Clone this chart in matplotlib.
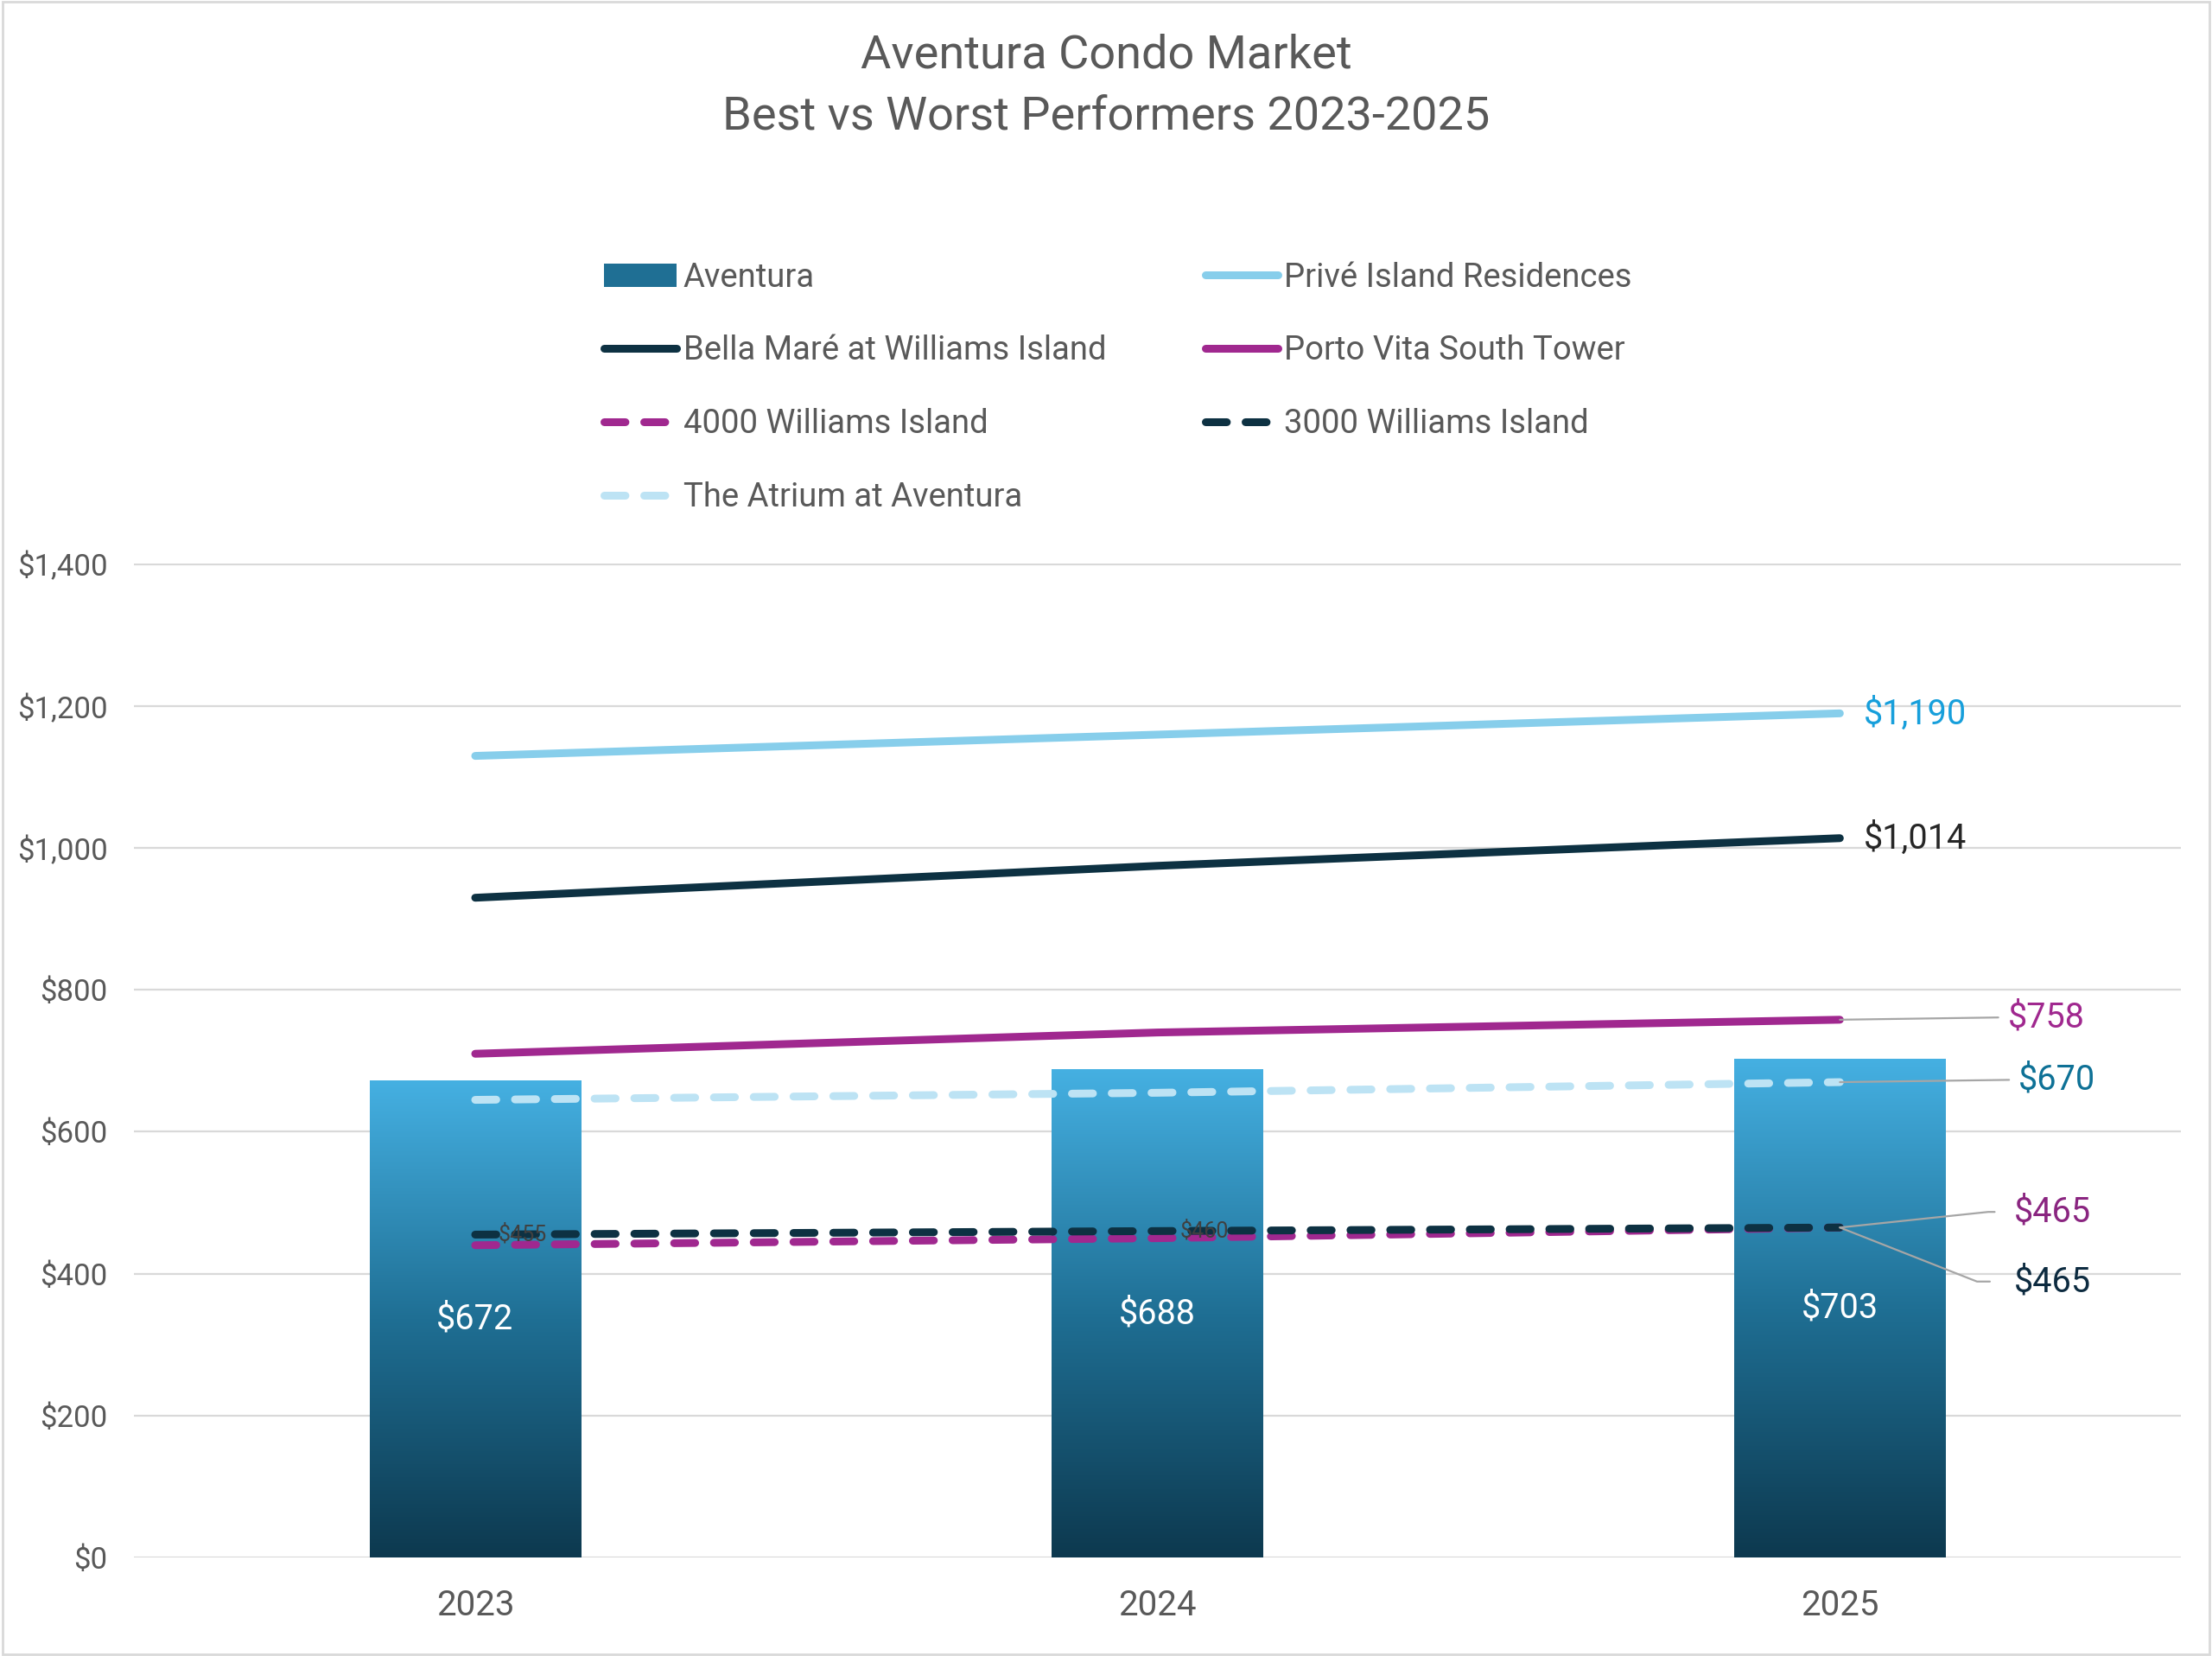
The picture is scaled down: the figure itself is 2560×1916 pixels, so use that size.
import numpy as np
import matplotlib.pyplot as plt
from matplotlib.lines import Line2D
from matplotlib.patches import Patch, Rectangle
from matplotlib.colors import LinearSegmentedColormap

plt.rcParams['font.family'] = ['Roboto', 'DejaVu Sans']

# data ($ per sq ft)
years = ['2023', '2024', '2025']
aventura = [672, 688, 703]
prive = [1130, 1160, 1190]
bella_mare = [930, 975, 1014]
porto_vita = [710, 740, 758]
williams_4000 = [440, 450, 465]
williams_3000 = [455, 460, 465]
atrium = [645, 655, 670]

TEXT = '#595959'
GRID = '#D9D9D9'
DASH = (2.7, 2.4)

fig = plt.figure(figsize=(25.6, 19.16), dpi=100)
ax = fig.add_axes([0.0606, 0.0596, 0.9254, 0.6])

x = np.arange(len(years))

# gradient bars for Aventura
bars = ax.bar(x, aventura, width=0.31, color='none', zorder=2)
cmap = LinearSegmentedColormap.from_list('av', ['#0D394F', '#1F6F94', '#45B0E2'])
grad = np.linspace(1, 0, 256).reshape(-1, 1)
for b in bars:
    x0 = b.get_x()
    ax.imshow(grad, cmap=cmap, vmin=0, vmax=1, aspect='auto', zorder=2,
              extent=(x0, x0 + b.get_width(), 0, b.get_height()))
ax.bar_label(bars, labels=[f'${v}' for v in aventura], label_type='center',
             color='white', fontsize=28.5, zorder=6)

# building lines
series = [
    ('Privé Island Residences', prive, '#87CEEB', None),
    ('Bella Maré at Williams Island', bella_mare, '#0D3142', None),
    ('Porto Vita South Tower', porto_vita, '#A0288F', None),
    ('4000 Williams Island', williams_4000, '#A0288F', DASH),
    ('3000 Williams Island', williams_3000, '#0D3142', DASH),
    ('The Atrium at Aventura', atrium, '#BDE3F4', DASH),
]
handles = {}
for name, vals, col, dash in series:
    kw = dict(color=col, lw=6.5, solid_capstyle='round', dash_capstyle='round')
    if dash:
        kw['dashes'] = dash
    ax.plot(x, vals, zorder=4, **kw)
    handles[name] = Line2D([], [], **kw)

handles['Aventura'] = Patch(facecolor='#1F6F94', edgecolor='none')

# end labels at 2025
def end_label(vals, text, col, dx, dy, conn='arc3', shrink=6):
    ax.annotate(text, xy=(2, vals[-1]), xytext=(dx, dy), textcoords='offset points',
                ha='left', va='center', fontsize=28.5, color=col, zorder=7,
                arrowprops=None if conn is None else dict(
                    arrowstyle='-', color='#A6A6A6', lw=1.6, shrinkA=shrink, shrinkB=0,
                    relpos=(0, 0.5), connectionstyle=conn))

end_label(prive, '$1,190', '#179FDB', 20, 0, conn=None)
end_label(bella_mare, '$1,014', '#262626', 20, 0, conn=None)
end_label(porto_vita, '$758', '#A0288F', 140, 2)
end_label(atrium, '$670', '#0E7196', 149, 2)
end_label(williams_4000, '$465', '#8A2580', 145, 13,
          conn='angle,angleA=0,angleB=6,rad=0', shrink=14)
end_label(williams_3000, '$465', '#0D2B40', 145, -45,
          conn='angle,angleA=0,angleB=-21.5,rad=0', shrink=18)

# small overlapping labels on 3000 Williams Island
for i in range(2):
    ax.annotate(f'${williams_3000[i]}', xy=(i, williams_3000[i]), xytext=(19, 0),
                textcoords='offset points', ha='left', va='center',
                fontsize=18, color='#404040', zorder=5)

ax.set_xlim(-0.5, 2.5)
ax.set_ylim(0, 1401)
ax.set_yticks(range(0, 1401, 200))
ax.yaxis.set_major_formatter(lambda v, p: f'${v:,.0f}')
ax.set_xticks(x)
ax.set_xticklabels(years)
ax.tick_params(axis='both', length=0, labelcolor=TEXT)
ax.tick_params(axis='x', pad=26, labelsize=29)
ax.tick_params(axis='y', pad=22, labelsize=25)
ax.yaxis.grid(True, color=GRID, lw=1.6)
ax.set_axisbelow(True)
for s in ax.spines.values():
    s.set_visible(False)

fig.text(0.5, 0.98, 'Aventura Condo Market\nBest vs Worst Performers 2023-2025',
         ha='center', va='top', fontsize=39, color=TEXT, linespacing=1.5)

order = ['Aventura', 'Bella Maré at Williams Island', '4000 Williams Island',
         'The Atrium at Aventura', 'Privé Island Residences', 'Porto Vita South Tower',
         '3000 Williams Island']
fig.legend([handles[n] for n in order], order, loc='upper left', ncol=2,
           bbox_to_anchor=(0.273, 0.842), frameon=False, fontsize=27.5,
           labelcolor=TEXT, handlelength=2.2, handletextpad=0.2,
           columnspacing=3.0, labelspacing=1.25, borderpad=0, borderaxespad=0)

fig.patches.append(Rectangle((0.001, 0.001), 0.998, 0.998, transform=fig.transFigure,
                             fill=False, edgecolor=GRID, lw=2))

fig.savefig('out.png', dpi=100)
